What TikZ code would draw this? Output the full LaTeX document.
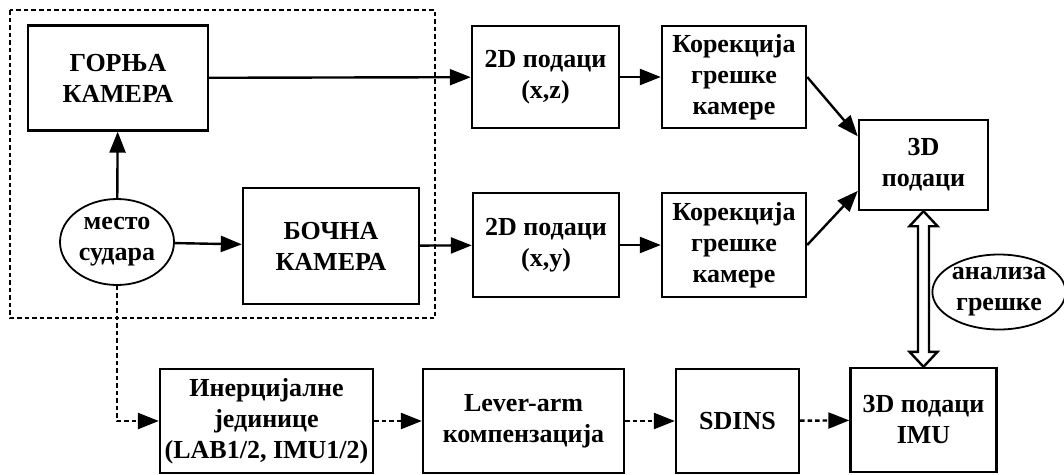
\documentclass[tikz,border=0pt]{standalone}
\usepackage{fontspec}
\setmainfont{Liberation Serif}
\usetikzlibrary{arrows.meta,calc,shapes.geometric}
\begin{document}
\begin{tikzpicture}[x=1pt,y=-1pt,
  blk/.style={draw,line width=2.4pt,inner sep=0pt,align=center,
    font=\fontsize{26}{31}\selectfont\bfseries},
  ell/.style={blk,ellipse,line width=1.8pt},
  arr/.style={line width=2.4pt,-{Triangle[length=21pt,width=16pt]}},
  darr/.style={arr,dash pattern=on 4.5pt off 3pt},
  frame/.style={line width=2pt,dash pattern=on 4.5pt off 3pt}]
\useasboundingbox (0,0) rectangle (1064,474);
% frame
\draw[frame] (10,10) rectangle (435,318);
% nodes
\node[blk,minimum width=180pt,minimum height=105pt] (top) at (118,78) {ГОРЊА\\КАМЕРА};
\node[ell,minimum width=114pt,minimum height=86pt] (mesto) at (117,242) {место\\судара};
\node[blk,minimum width=176pt,minimum height=116pt] (bocna) at (331,246) {БОЧНА\\КАМЕРА};
\node[blk,minimum width=147pt,minimum height=102pt] (xz) at (545.5,77) {2D подаци\\(x,z)};
\node[blk,minimum width=144pt,minimum height=102pt] (kor1) at (734,77) {Корекција\\грешке\\камере};
\node[blk,minimum width=146pt,minimum height=104pt] (xy) at (546,245) {2D подаци\\(x,y)};
\node[blk,minimum width=144pt,minimum height=104pt] (kor2) at (734,245) {Корекција\\грешке\\камере};
\node[blk,minimum width=129pt,minimum height=90pt] (d3) at (923.5,165) {3D\\подаци};
\node[ell,minimum width=128pt,minimum height=75pt] (an) at (999,292) {анализа\\грешке};
\node[blk,minimum width=213pt,minimum height=104pt] (iner) at (266.5,421) {Инерцијалне\\јединице\\(LAB1/2, IMU1/2)};
\node[blk,minimum width=201pt,minimum height=104pt] (lever) at (523.5,421) {Lever-arm\\компензација};
\node[blk,minimum width=123pt,minimum height=104pt] (sdins) at (737.5,421) {SDINS};
\node[blk,minimum width=146pt,minimum height=104pt] (imu) at (923.5,420) {3D подаци\\IMU};
% connectors
\draw[arr] (mesto) -- (top);
\draw[arr] (mesto) -- (bocna);
\draw[arr] (top) -- (xz);
\draw[arr] (bocna) -- (xy);
\draw[arr] (xz) -- (kor1);
\draw[arr] (xy) -- (kor2);
\draw[arr] (kor1.east) -- ($(d3.north west)!0.19!(d3.south west)$);
\draw[arr] (kor2.east) -- ($(d3.north west)!0.78!(d3.south west)$);
\draw[darr] (mesto.south) |- (iner.west);
\draw[darr] (iner) -- (lever);
\draw[darr] (lever) -- (sdins);
\draw[darr] (sdins) -- (imu);
% double hollow arrow
\draw[line width=2.4pt,line join=miter,fill=white]
  (d3.south) -- ++(14,15) -- ++(-8.5,0) -- ($(imu.north)+(5.5,-15)$) -- ++(8.5,0)
  -- (imu.north) -- ++(-14,-15) -- ++(8.5,0) -- ($(d3.south)+(-5.5,15)$) -- ++(-8.5,0) -- cycle;
\end{tikzpicture}
\end{document}
